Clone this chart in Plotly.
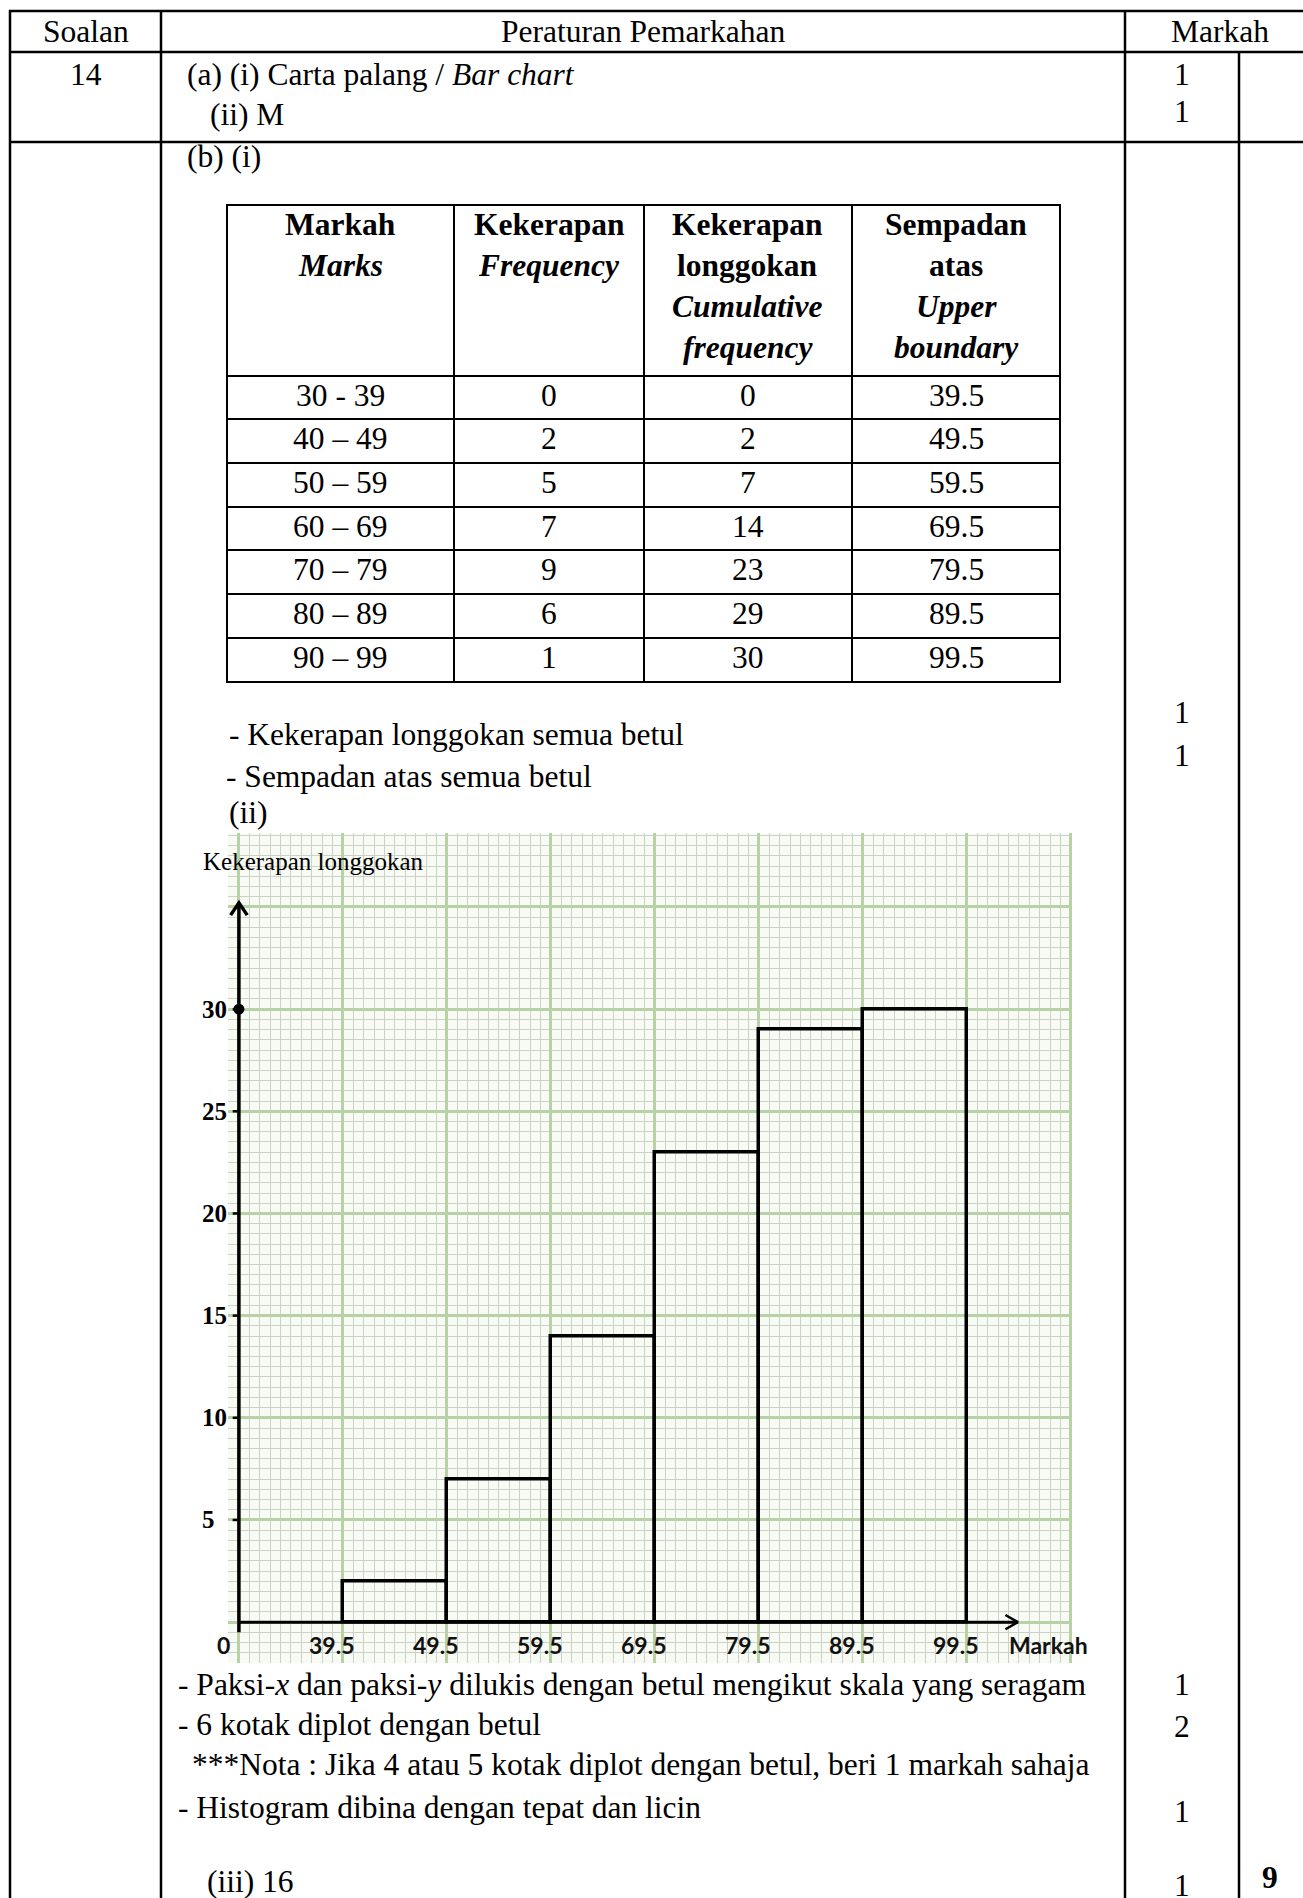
import plotly.graph_objects as go

W, H = 1303, 1898

# ---------------- data ----------------
marks_classes = ["30 - 39", "40 – 49", "50 – 59", "60 – 69", "70 – 79", "80 – 89", "90 – 99"]
frequency = [0, 2, 5, 7, 9, 6, 1]
cumulative = [0, 2, 7, 14, 23, 29, 30]
upper_boundary = [39.5, 49.5, 59.5, 69.5, 79.5, 89.5, 99.5]
x_tick_labels = ["39.5", "49.5", "59.5", "69.5", "79.5", "89.5", "99.5"]
y_tick_values = [5, 10, 15, 20, 25, 30]
y_tick_labels = ["5", "10", "15", "20", "25", "30"]
x_origin = 29.5          # broken x-axis: the "0" sits here
class_width = 10

SERIF = "Liberation Serif, Times New Roman, serif"
SANS = "Lato, Calibri, sans-serif"
F = 31.5

fig = go.Figure()

# ---------------- histogram (cumulative frequency) ----------------
fig.add_trace(go.Bar(
    x=[u - class_width / 2 for u in upper_boundary[1:]],
    y=cumulative[1:],
    width=class_width,
    marker=dict(color="rgba(0,0,0,0)", line=dict(color="black", width=3.5)),
    showlegend=False, hoverinfo="skip"))

# axes drawn inside graph paper
y_top = 35.2
x_end = 104.4
fig.add_trace(go.Scatter(x=[x_origin, x_origin], y=[-0.5, y_top], mode="lines",
                         line=dict(color="black", width=3.5), showlegend=False, hoverinfo="skip"))
fig.add_trace(go.Scatter(x=[x_origin - 0.8, x_origin, x_origin + 0.8], y=[y_top - 0.6, y_top, y_top - 0.6],
                         mode="lines", line=dict(color="black", width=3.5), showlegend=False, hoverinfo="skip"))
fig.add_trace(go.Scatter(x=[x_origin, x_end], y=[0, 0], mode="lines",
                         line=dict(color="black", width=3), showlegend=False, hoverinfo="skip"))
fig.add_trace(go.Scatter(x=[x_end - 1.2, x_end, x_end - 1.2], y=[0.35, 0, -0.35], mode="lines",
                         line=dict(color="black", width=2.5), showlegend=False, hoverinfo="skip"))
tx, ty = [], []
for v in y_tick_values:
    tx += [x_origin - 0.6, x_origin, None]
    ty += [v, v, None]
fig.add_trace(go.Scatter(x=tx, y=ty, mode="lines", line=dict(color="black", width=2.5),
                         showlegend=False, hoverinfo="skip"))
fig.add_trace(go.Scatter(x=[x_origin], y=[cumulative[-1]], mode="markers",
                         marker=dict(color="black", size=11), showlegend=False, hoverinfo="skip"))

# axis labels in the chart
for v, lab in zip(y_tick_values, y_tick_labels):
    fig.add_annotation(x=200 / W, xref="paper", y=v, yref="y", text="<b>" + lab + "</b>",
                       showarrow=False, xanchor="left", yanchor="middle",
                       font=dict(family=SERIF, size=25, color="black"))
for v, lab in zip(upper_boundary, x_tick_labels):
    fig.add_annotation(x=v, xref="x", xshift=-11, y=0, yref="y", yshift=-23, text="<b>" + lab + "</b>",
                       showarrow=False, xanchor="center", yanchor="middle",
                       font=dict(family=SANS, size=23, color="#111"))
fig.add_annotation(x=x_origin, xref="x", xshift=-15, y=0, yref="y", yshift=-23, text="<b>0</b>",
                   showarrow=False, xanchor="center", yanchor="middle",
                   font=dict(family=SANS, size=23, color="#111"))
fig.add_annotation(x=1048 / W, xref="paper", y=0, yref="y", yshift=-23, text="<b>Markah</b>",
                   showarrow=False, xanchor="center", yanchor="middle",
                   font=dict(family=SANS, size=23, color="#111"))

# ---------------- helpers for the page ----------------
def px_x(x):
    return x / W

def px_y(y):
    return 1 - y / H

def hline(y, x0, x1, w=2.5):
    fig.add_shape(type="line", xref="paper", yref="paper", x0=px_x(x0), x1=px_x(x1),
                  y0=px_y(y), y1=px_y(y), line=dict(color="black", width=w))

def vline(x, y0, y1, w=2.5):
    fig.add_shape(type="line", xref="paper", yref="paper", x0=px_x(x), x1=px_x(x),
                  y0=px_y(y0), y1=px_y(y1), line=dict(color="black", width=w))

def txt(x, baseline, s, anchor="left", size=F, family=SERIF):
    yc = baseline - 0.33 * size
    fig.add_annotation(x=px_x(x), y=px_y(yc), xref="paper", yref="paper", text=s,
                       showarrow=False, xanchor=anchor, yanchor="middle",
                       font=dict(family=family, size=size, color="black"))

# ---------------- outer table ----------------
hline(11, 9, W)
hline(52, 9, W)
hline(142, 9, W)
vline(10, 10, H)
vline(161, 10, H)
vline(1125, 10, H)
vline(1239, 52, H)

txt(86, 42, "Soalan", "center")
txt(643, 42, "Peraturan Pemarkahan", "center")
txt(1220, 42, "Markah", "center")
txt(86, 85, "14", "center")
txt(185, 85, "(a) (i) Carta palang / <i>Bar chart</i>")
txt(208, 125, "(ii) M")
txt(1182, 85, "1", "center")
txt(1182, 122, "1", "center")
txt(185, 167, "(b) (i)")

# ---------------- inner table ----------------
cols = [227, 454, 644, 852, 1060]
rows = [205, 376, 419, 463, 507, 550, 594, 638, 682]
for r in rows:
    hline(r, cols[0] - 1, cols[-1] + 1, 2)
for c in cols:
    vline(c, rows[0] - 1, rows[-1] + 1, 2)
centers = [(cols[i] + cols[i + 1]) / 2 for i in range(4)]
headers = [
    ["<b>Markah</b>", "<b><i>Marks</i></b>"],
    ["<b>Kekerapan</b>", "<b><i>Frequency</i></b>"],
    ["<b>Kekerapan</b>", "<b>longgokan</b>", "<b><i>Cumulative</i></b>", "<b><i>frequency</i></b>"],
    ["<b>Sempadan</b>", "<b>atas</b>", "<b><i>Upper</i></b>", "<b><i>boundary</i></b>"],
]
for ci, lines in enumerate(headers):
    for li, s in enumerate(lines):
        txt(centers[ci], 235 + 41 * li, s, "center")
for ri in range(len(marks_classes)):
    bl = rows[ri + 1] + 30
    vals = [marks_classes[ri], str(frequency[ri]), str(cumulative[ri]), str(upper_boundary[ri])]
    for ci, s in enumerate(vals):
        txt(centers[ci], bl, s, "center")

txt(227, 745, "- Kekerapan longgokan semua betul")
txt(224, 787, "- Sempadan atas semua betul")
txt(227, 823, "(ii)")
txt(1182, 723, "1", "center")
txt(1182, 766, "1", "center")
txt(201, 870, "Kekerapan longgokan", size=25)

# ---------------- bottom criteria ----------------
txt(176, 1695, "- Paksi-<i>x</i> dan paksi-<i>y</i> dilukis dengan betul mengikut skala yang seragam")
txt(176, 1735, "- 6 kotak diplot dengan betul")
txt(190, 1775, "***Nota : Jika 4 atau 5 kotak diplot dengan betul, beri 1 markah sahaja")
txt(176, 1818, "- Histogram dibina dengan tepat dan licin")
txt(205, 1892, "(iii) 16")
txt(1182, 1695, "1", "center")
txt(1182, 1737, "2", "center")
txt(1182, 1822, "1", "center")
txt(1182, 1896, "1", "center")
txt(1270, 1888, "<b>9</b>", "center")

# ---------------- layout (graph paper) ----------------
x_left_px, x_right_px = 228, 1072
y_top_px, y_bot_px = 833.4, 1663
fig.update_layout(
    width=W, height=H, margin=dict(l=0, r=0, t=0, b=0),
    paper_bgcolor="white", plot_bgcolor="#f8fbf4",
    showlegend=False, bargap=0,
    xaxis=dict(domain=[x_left_px / W, x_right_px / W], range=[28.45, 109.6],
               tick0=x_origin, dtick=class_width, showgrid=True, gridcolor="#b9d1a6", gridwidth=3,
               minor=dict(tick0=x_origin, dtick=1, showgrid=True, gridcolor="#cdd2c8", gridwidth=1),
               showticklabels=False, zeroline=False, showline=False, ticks="", fixedrange=True),
    yaxis=dict(domain=[1 - y_bot_px / H, 1 - y_top_px / H], range=[-2, 38.6],
               tick0=0, dtick=5, showgrid=True, gridcolor="#b9d1a6", gridwidth=3,
               minor=dict(tick0=0, dtick=0.5, showgrid=True, gridcolor="#cdd2c8", gridwidth=1),
               showticklabels=False, zeroline=False, showline=False, ticks="", fixedrange=True),
)

fig.write_html("out.html", config={"displayModeBar": False},
               post_script="document.body.style.margin='0px';document.body.style.overflow='hidden';")
